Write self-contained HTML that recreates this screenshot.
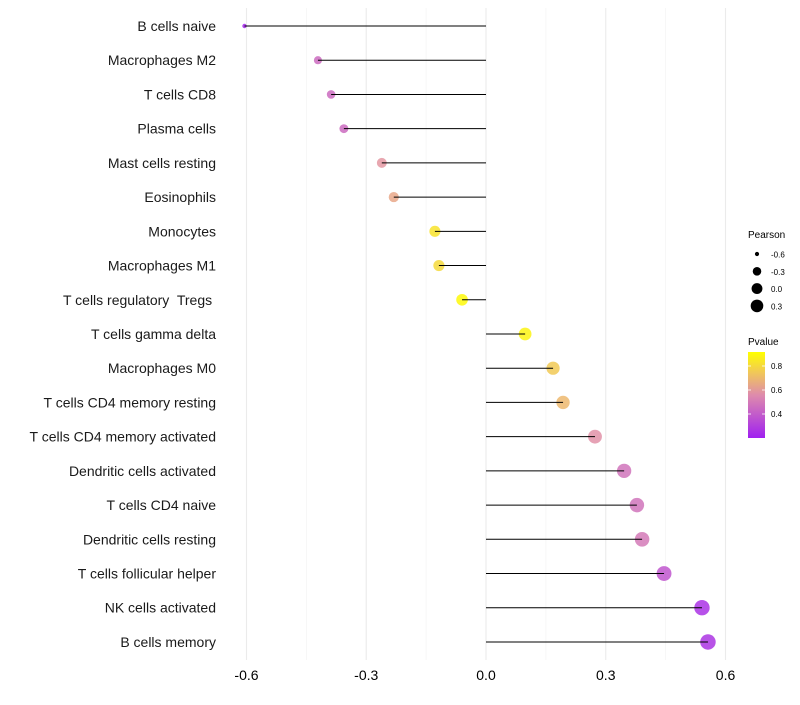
<!DOCTYPE html>
<html><head><meta charset="utf-8"><style>
body{margin:0;background:#fff;font-family:"Liberation Sans",sans-serif}
text{white-space:pre}
</style></head><body>
<svg id="chart" width="800" height="700" xmlns="http://www.w3.org/2000/svg"></svg>
<script>
const categories=["B cells naive","Macrophages M2","T cells CD8","Plasma cells","Mast cells resting","Eosinophils","Monocytes","Macrophages M1","T cells regulatory  Tregs ","T cells gamma delta","Macrophages M0","T cells CD4 memory resting","T cells CD4 memory activated","Dendritic cells activated","T cells CD4 naive","Dendritic cells resting","T cells follicular helper","NK cells activated","B cells memory"];
const pearson=[-0.605,-0.421,-0.388,-0.356,-0.261,-0.231,-0.128,-0.118,-0.060,0.098,0.168,0.193,0.273,0.346,0.378,0.391,0.446,0.541,0.556];
const pvalue=[0.22,0.45,0.45,0.45,0.6,0.65,0.83,0.8,0.9,0.88,0.75,0.7,0.58,0.48,0.48,0.5,0.38,0.26,0.27];
const xTicks=[-0.6,-0.3,0,0.3,0.6];
const xTickLabels=["-0.6","-0.3","0.0","0.3","0.6"];
const sizeLegend=[-0.6,-0.3,0,0.3];
const pvTicks=[0.8,0.6,0.4];

const svg=document.getElementById('chart');
const NS="http://www.w3.org/2000/svg";
function el(t,a,p){const e=document.createElementNS(NS,t);for(const k in a)e.setAttribute(k,a[k]);(p||svg).appendChild(e);return e;}
const x=v=>486+v*399.2;
const y=i=>26+i*34.22;
const r=v=>1.5+6.3*Math.sqrt(Math.max(0,(v+0.62)/1.2));
function col(p){
  const t=Math.max(0,Math.min(1,(p-0.2)/(0.917-0.2)));
  const stops=[[0,[160,32,240]],[0.55,[228,150,165]],[1,[255,255,0]]];
  let a=stops[0],b=stops[1];if(t>0.55){a=stops[1];b=stops[2];}
  const f=(t-a[0])/(b[0]-a[0]);
  const c=a[1].map((v,k)=>Math.round(v+(b[1][k]-v)*f));
  return `rgb(${c[0]},${c[1]},${c[2]})`;
}
const minor=[-0.45,-0.15,0.15,0.45];
minor.forEach(v=>{const g=el('line',{x1:x(v),x2:x(v),y1:8,y2:660,stroke:'#f2f2f2','stroke-width':0.6});
});
xTicks.forEach((v,i)=>{const g=el('line',{x1:x(v),x2:x(v),y1:8,y2:660,stroke:'#ebebeb','stroke-width':1.1});

const t=el('text',{x:x(v),y:680,'text-anchor':'middle','font-size':14,fill:'#000'});t.textContent=xTickLabels[i];
});
categories.forEach((c,i)=>{
  const t=el('text',{x:216,y:y(i)+5,'text-anchor':'end','font-size':14,fill:'#1a1a1a'});t.textContent=c;
  
  const d=el('circle',{cx:x(pearson[i]),cy:y(i),r:r(pearson[i]),fill:col(pvalue[i]),'fill-opacity':0.85});
  
  const l=el('line',{x1:x(0),x2:x(pearson[i]),y1:y(i),y2:y(i),stroke:'#000','stroke-width':1});
  
});
let t=el('text',{x:748,y:238,'font-size':10});t.textContent='Pearson';

sizeLegend.forEach((v,i)=>{const cy=254+i*17.3;
 const c=el('circle',{cx:757,cy:cy,r:r(v)*0.9,fill:'#000'});
 const tt=el('text',{x:771,y:cy+3.5,'font-size':8});tt.textContent=v.toFixed(1);});
t=el('text',{x:748,y:345,'font-size':10});t.textContent='Pvalue';

const defs=el('defs',{});const lg=el('linearGradient',{id:'pg',x1:0,y1:1,x2:0,y2:0},defs);
[0,0.25,0.5,0.75,1].forEach(o=>el('stop',{offset:o,'stop-color':col(0.2+o*0.717)},lg));
const bar=el('rect',{x:748,y:352,width:17,height:86,fill:'url(#pg)'});

pvTicks.forEach(v=>{const cy=438-(v-0.2)*120;
 el('line',{x1:748,x2:751,y1:cy,y2:cy,stroke:'#fff','stroke-width':0.8});el('line',{x1:762,x2:765,y1:cy,y2:cy,stroke:'#fff','stroke-width':0.8});
 const tt=el('text',{x:771,y:cy+3,'font-size':8});tt.textContent=v.toFixed(1);});
</script>
</body></html>
